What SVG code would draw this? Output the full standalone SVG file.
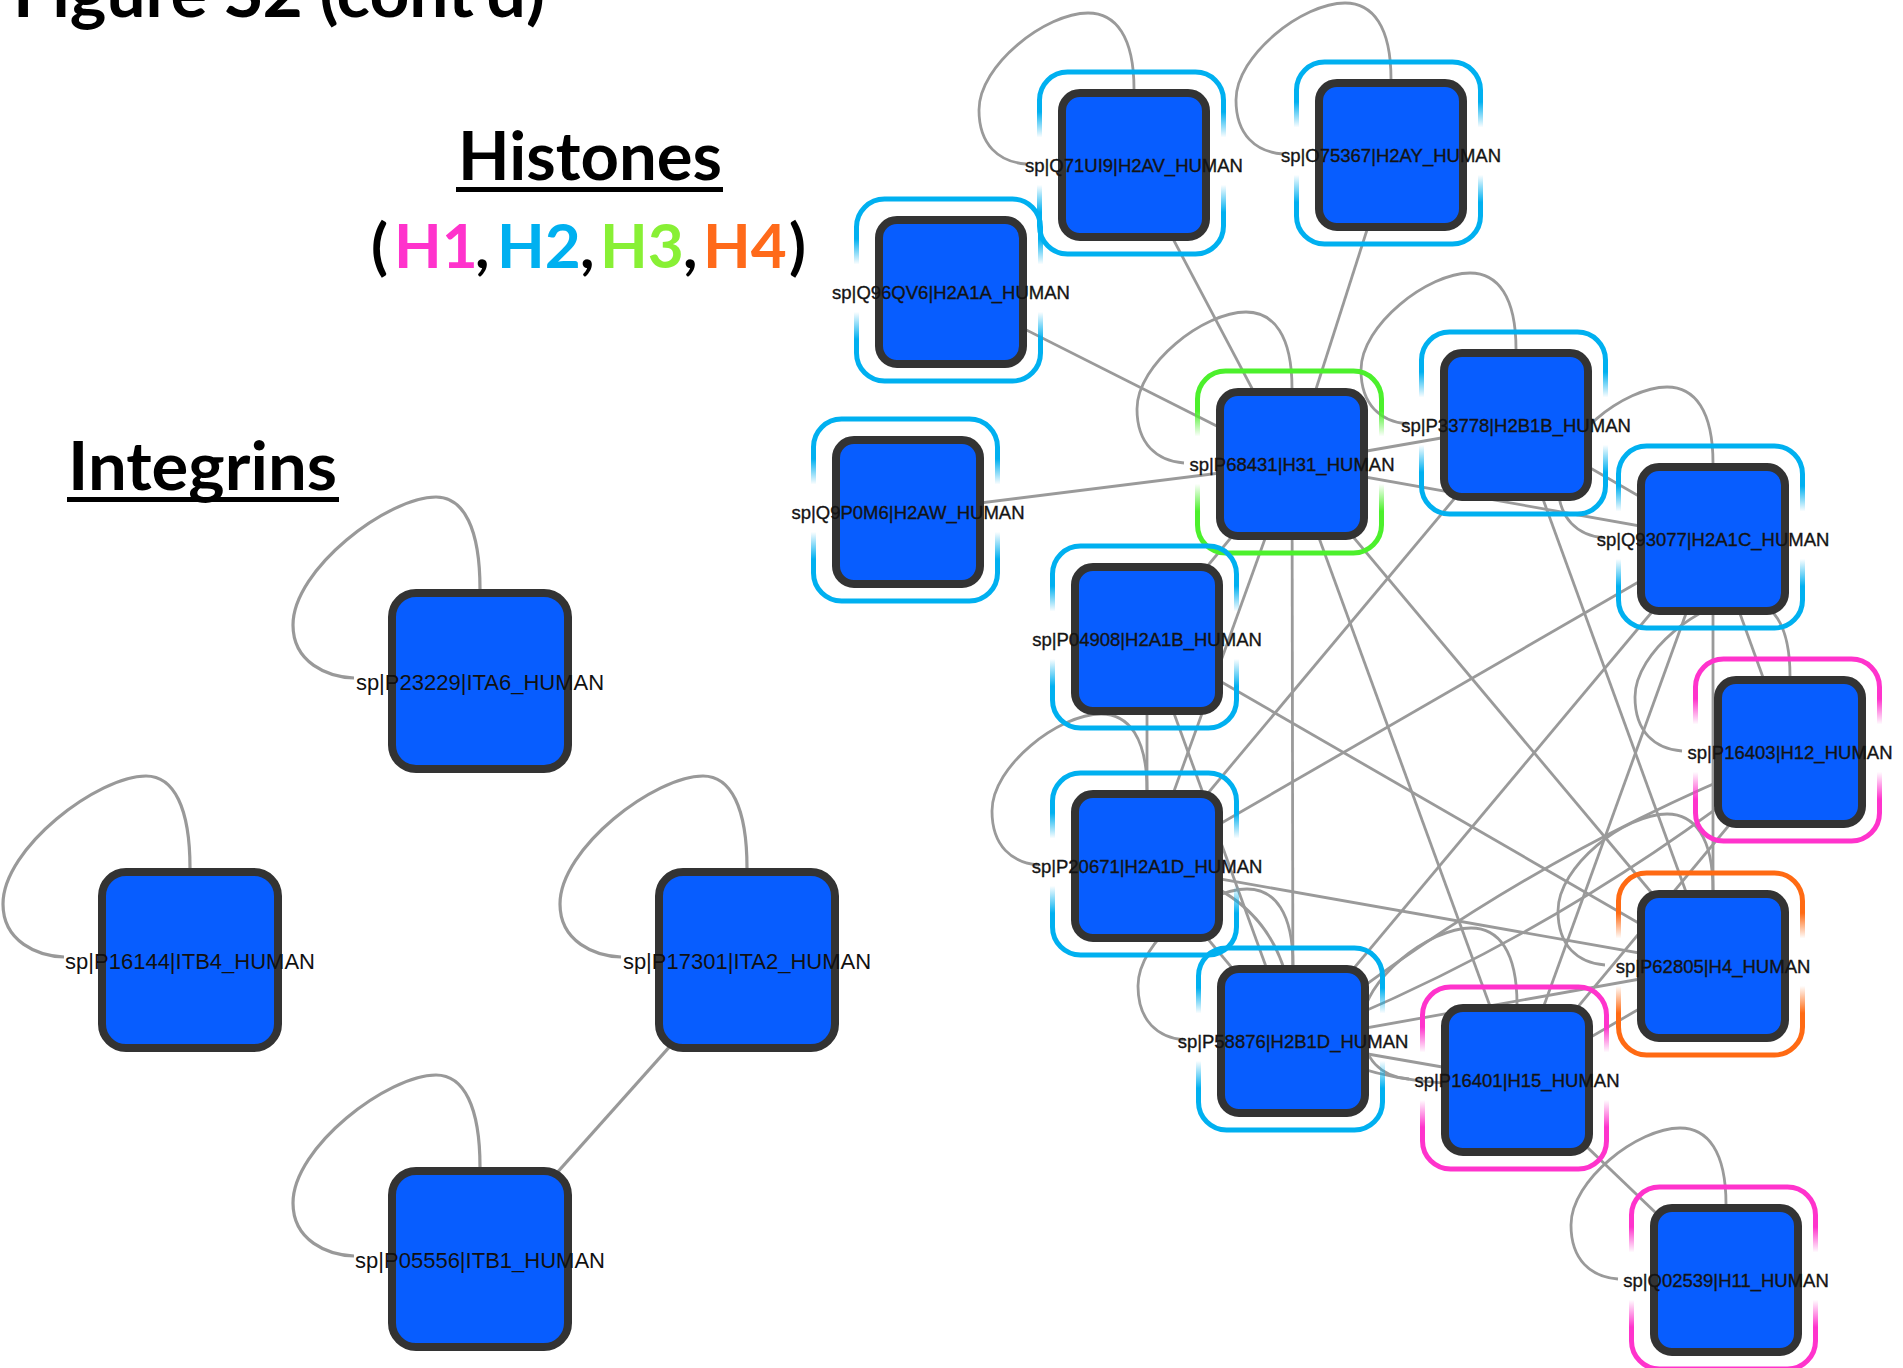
<svg xmlns="http://www.w3.org/2000/svg" xmlns:xlink="http://www.w3.org/1999/xlink" width="1903" height="1368" viewBox="0 0 1903 1368">
  <style>
    .head { font-family: Lato, "Open Sans", sans-serif; font-weight: bold; font-size: 66px; fill: #000; }
    .legend { font-family: Lato, "Open Sans", sans-serif; font-weight: bold; font-size: 62px; fill: #000; }
    .edge { fill: none; stroke: #9a9a9a; stroke-width: 2.8; }
    .iedge { fill: none; stroke: #999; stroke-width: 3.2; }
    .hn { fill: #075dff; stroke: #333; stroke-width: 8; }
    .in { fill: #075dff; stroke: #333; stroke-width: 8; }
    .hl { font-family: "Liberation Sans", Arial, sans-serif; font-size: 18.5px; fill: #141414; text-anchor: middle; stroke: #141414; stroke-width: 0.35; }
    .il { font-family: "Liberation Sans", Arial, sans-serif; font-size: 22px; fill: #111; text-anchor: middle; }
    .ring { fill: none; stroke-width: 5; }
    .h1 { stroke: url(#fadeH1); }
    .h2 { stroke: url(#fadeH2); }
    .h3 { stroke: url(#fadeH3); }
    .h4 { stroke: url(#fadeH4); }
  </style>
  <defs>
    <!-- ring strokes fade out along the middle of the left and right sides -->
    <linearGradient id="fadeH1" x1="0" y1="0" x2="0" y2="1">
      <stop offset="0" stop-color="#ff33cc"/><stop offset="0.22" stop-color="#ff33cc"/>
      <stop offset="0.36" stop-color="#ff33cc" stop-opacity="0"/><stop offset="0.62" stop-color="#ff33cc" stop-opacity="0"/>
      <stop offset="0.77" stop-color="#ff33cc"/><stop offset="1" stop-color="#ff33cc"/>
    </linearGradient>
    <linearGradient id="fadeH2" x1="0" y1="0" x2="0" y2="1">
      <stop offset="0" stop-color="#00b0f0"/><stop offset="0.22" stop-color="#00b0f0"/>
      <stop offset="0.36" stop-color="#00b0f0" stop-opacity="0"/><stop offset="0.62" stop-color="#00b0f0" stop-opacity="0"/>
      <stop offset="0.77" stop-color="#00b0f0"/><stop offset="1" stop-color="#00b0f0"/>
    </linearGradient>
    <linearGradient id="fadeH3" x1="0" y1="0" x2="0" y2="1">
      <stop offset="0" stop-color="#4cf02c"/><stop offset="0.22" stop-color="#4cf02c"/>
      <stop offset="0.36" stop-color="#4cf02c" stop-opacity="0"/><stop offset="0.62" stop-color="#4cf02c" stop-opacity="0"/>
      <stop offset="0.77" stop-color="#4cf02c"/><stop offset="1" stop-color="#4cf02c"/>
    </linearGradient>
    <linearGradient id="fadeH4" x1="0" y1="0" x2="0" y2="1">
      <stop offset="0" stop-color="#ff6a13"/><stop offset="0.22" stop-color="#ff6a13"/>
      <stop offset="0.36" stop-color="#ff6a13" stop-opacity="0"/><stop offset="0.62" stop-color="#ff6a13" stop-opacity="0"/>
      <stop offset="0.77" stop-color="#ff6a13"/><stop offset="1" stop-color="#ff6a13"/>
    </linearGradient>
    <!-- self-loop shapes, relative to the node centre -->
    <path id="loopH" class="edge" d="M0,-76 C0,-128 -18,-152 -46,-152 C-88,-152 -155,-100 -155,-55 C-155,-20 -135,-3 -108,-1"/>
    <path id="loopI" class="iedge" d="M0,-92 C0,-152 -16,-184 -44,-184 C-92,-184 -187,-112 -187,-56 C-187,-18 -152,-4 -126,-3"/>
  </defs>

  <rect width="1903" height="1368" fill="#fff"/>

  <!-- headings -->
  <g id="headings">
    <text class="head" x="13" y="17" textLength="532" lengthAdjust="spacingAndGlyphs">Figure S2 (cont'd)</text>
    <text class="head" x="458" y="180" textLength="264" lengthAdjust="spacingAndGlyphs">Histones</text>
    <rect x="456" y="187" width="267" height="5" fill="#000"/>
    <text class="legend" y="268"><tspan x="371">(</tspan><tspan x="394" fill="#ff33cc">H1</tspan><tspan x="475">,</tspan><tspan x="497" fill="#00b0f0">H2</tspan><tspan x="580">,</tspan><tspan x="600" fill="#88f035">H3</tspan><tspan x="683">,</tspan><tspan x="703" fill="#ff6a1a">H4</tspan><tspan x="789">)</tspan></text>
    <text class="head" x="68" y="490" textLength="269" lengthAdjust="spacingAndGlyphs">Integrins</text>
    <rect x="67" y="497" width="272" height="5" fill="#000"/>
  </g>

  <!-- connectors -->
  <g id="connectors">
    <!-- integrins -->
    <use href="#loopI" x="480" y="681"/>
    <use href="#loopI" x="190" y="960"/>
    <use href="#loopI" x="747" y="960"/>
    <use href="#loopI" x="480" y="1259"/>
    <line class="iedge" x1="747" y1="960" x2="480" y2="1259"/>

    <!-- histone self-loops -->
    <use href="#loopH" x="1134" y="165"/>
    <use href="#loopH" x="1391" y="155"/>
    <use href="#loopH" x="1292" y="464"/>
    <use href="#loopH" x="1516" y="425"/>
    <use href="#loopH" x="1713" y="539"/>
    <use href="#loopH" x="1147" y="866"/>
    <use href="#loopH" x="1293" y="1041"/>
    <use href="#loopH" x="1517" y="1080"/>
    <use href="#loopH" x="1713" y="966"/>
    <use href="#loopH" x="1790" y="752"/>
    <use href="#loopH" x="1726" y="1280"/>

    <!-- histone interactions -->
    <line class="edge" x1="1134" y1="165" x2="1292" y2="464"/>
    <line class="edge" x1="1391" y1="155" x2="1292" y2="464"/>
    <line class="edge" x1="951" y1="292" x2="1292" y2="464"/>
    <line class="edge" x1="908" y1="512" x2="1292" y2="464"/>
    <line class="edge" x1="1292" y1="464" x2="1516" y2="425"/>
    <line class="edge" x1="1292" y1="464" x2="1713" y2="539"/>
    <line class="edge" x1="1292" y1="464" x2="1147" y2="639"/>
    <line class="edge" x1="1292" y1="464" x2="1147" y2="866"/>
    <line class="edge" x1="1292" y1="464" x2="1293" y2="1041"/>
    <line class="edge" x1="1292" y1="464" x2="1517" y2="1080"/>
    <line class="edge" x1="1292" y1="464" x2="1713" y2="966"/>
    <line class="edge" x1="1516" y1="425" x2="1713" y2="539"/>
    <line class="edge" x1="1516" y1="425" x2="1147" y2="866"/>
    <line class="edge" x1="1516" y1="425" x2="1713" y2="966"/>
    <line class="edge" x1="1713" y1="539" x2="1147" y2="866"/>
    <line class="edge" x1="1713" y1="539" x2="1293" y2="1041"/>
    <line class="edge" x1="1713" y1="539" x2="1517" y2="1080"/>
    <line class="edge" x1="1713" y1="539" x2="1713" y2="966"/>
    <line class="edge" x1="1713" y1="539" x2="1790" y2="752"/>
    <line class="edge" x1="1147" y1="639" x2="1147" y2="866"/>
    <line class="edge" x1="1147" y1="639" x2="1713" y2="966"/>
    <line class="edge" x1="1147" y1="639" x2="1293" y2="1041"/>
    <line class="edge" x1="1147" y1="866" x2="1713" y2="966"/>
    <line class="edge" x1="1147" y1="866" x2="1293" y2="1041"/>
    <path class="edge" d="M1147,866 Q1297,890 1293,1041"/>
    <line class="edge" x1="1293" y1="1041" x2="1713" y2="966"/>
    <line class="edge" x1="1293" y1="1041" x2="1517" y2="1080"/>
    <path class="edge" d="M1293,1041 Q1399,1096 1517,1080"/>
    <path class="edge" d="M1293,1041 Q1519,858 1790,752"/>
    <path class="edge" d="M1293,1041 Q1564,935 1790,752"/>
    <line class="edge" x1="1517" y1="1080" x2="1713" y2="966"/>
    <line class="edge" x1="1517" y1="1080" x2="1790" y2="752"/>
    <line class="edge" x1="1517" y1="1080" x2="1726" y2="1280"/>
  </g>

  <!-- integrin nodes -->
  <g id="n-ita6"><rect class="in" x="392" y="593" width="176" height="176" rx="24"/><text class="il" x="480" y="689.5">sp|P23229|ITA6_HUMAN</text></g>
  <g id="n-itb4"><rect class="in" x="102" y="872" width="176" height="176" rx="24"/><text class="il" x="190" y="968.5">sp|P16144|ITB4_HUMAN</text></g>
  <g id="n-ita2"><rect class="in" x="659" y="872" width="176" height="176" rx="24"/><text class="il" x="747" y="968.5">sp|P17301|ITA2_HUMAN</text></g>
  <g id="n-itb1"><rect class="in" x="392" y="1171" width="176" height="176" rx="24"/><text class="il" x="480" y="1267.5">sp|P05556|ITB1_HUMAN</text></g>

  <!-- histone nodes: square, label, family ring -->
  <g id="n-h2av"><rect class="hn" x="1062" y="93" width="144" height="144" rx="18"/><text class="hl" x="1134" y="171.5">sp|Q71UI9|H2AV_HUMAN</text><rect class="ring h2" x="1039.5" y="72" width="184" height="182" rx="28"/></g>
  <g id="n-h2ay"><rect class="hn" x="1319" y="83" width="144" height="144" rx="18"/><text class="hl" x="1391" y="161.5">sp|O75367|H2AY_HUMAN</text><rect class="ring h2" x="1296.5" y="62" width="184" height="182" rx="28"/></g>
  <g id="n-h2a1a"><rect class="hn" x="879" y="220" width="144" height="144" rx="18"/><text class="hl" x="951" y="298.5">sp|Q96QV6|H2A1A_HUMAN</text><rect class="ring h2" x="856.5" y="199" width="184" height="182" rx="28"/></g>
  <g id="n-h31"><rect class="hn" x="1220" y="392" width="144" height="144" rx="18"/><text class="hl" x="1292" y="470.5">sp|P68431|H31_HUMAN</text><rect class="ring h3" x="1197.5" y="371" width="184" height="182" rx="28"/></g>
  <g id="n-h2b1b"><rect class="hn" x="1444" y="353" width="144" height="144" rx="18"/><text class="hl" x="1516" y="431.5">sp|P33778|H2B1B_HUMAN</text><rect class="ring h2" x="1421.5" y="332" width="184" height="182" rx="28"/></g>
  <g id="n-h2a1c"><rect class="hn" x="1641" y="467" width="144" height="144" rx="18"/><text class="hl" x="1713" y="545.5">sp|Q93077|H2A1C_HUMAN</text><rect class="ring h2" x="1618.5" y="446" width="184" height="182" rx="28"/></g>
  <g id="n-h2aw"><rect class="hn" x="836" y="440" width="144" height="144" rx="18"/><text class="hl" x="908" y="518.5">sp|Q9P0M6|H2AW_HUMAN</text><rect class="ring h2" x="813.5" y="419" width="184" height="182" rx="28"/></g>
  <g id="n-h2a1b"><rect class="hn" x="1075" y="567" width="144" height="144" rx="18"/><text class="hl" x="1147" y="645.5">sp|P04908|H2A1B_HUMAN</text><rect class="ring h2" x="1052.5" y="546" width="184" height="182" rx="28"/></g>
  <g id="n-h12"><rect class="hn" x="1718" y="680" width="144" height="144" rx="18"/><text class="hl" x="1790" y="758.5">sp|P16403|H12_HUMAN</text><rect class="ring h1" x="1695.5" y="659" width="184" height="182" rx="28"/></g>
  <g id="n-h2a1d"><rect class="hn" x="1075" y="794" width="144" height="144" rx="18"/><text class="hl" x="1147" y="872.5">sp|P20671|H2A1D_HUMAN</text><rect class="ring h2" x="1052.5" y="773" width="184" height="182" rx="28"/></g>
  <g id="n-h4"><rect class="hn" x="1641" y="894" width="144" height="144" rx="18"/><text class="hl" x="1713" y="972.5">sp|P62805|H4_HUMAN</text><rect class="ring h4" x="1618.5" y="873" width="184" height="182" rx="28"/></g>
  <g id="n-h2b1d"><rect class="hn" x="1221" y="969" width="144" height="144" rx="18"/><text class="hl" x="1293" y="1047.5">sp|P58876|H2B1D_HUMAN</text><rect class="ring h2" x="1198.5" y="948" width="184" height="182" rx="28"/></g>
  <g id="n-h15"><rect class="hn" x="1445" y="1008" width="144" height="144" rx="18"/><text class="hl" x="1517" y="1086.5">sp|P16401|H15_HUMAN</text><rect class="ring h1" x="1422.5" y="987" width="184" height="182" rx="28"/></g>
  <g id="n-h11"><rect class="hn" x="1654" y="1208" width="144" height="144" rx="18"/><text class="hl" x="1726" y="1286.5">sp|Q02539|H11_HUMAN</text><rect class="ring h1" x="1631.5" y="1187" width="184" height="182" rx="28"/></g>
</svg>
